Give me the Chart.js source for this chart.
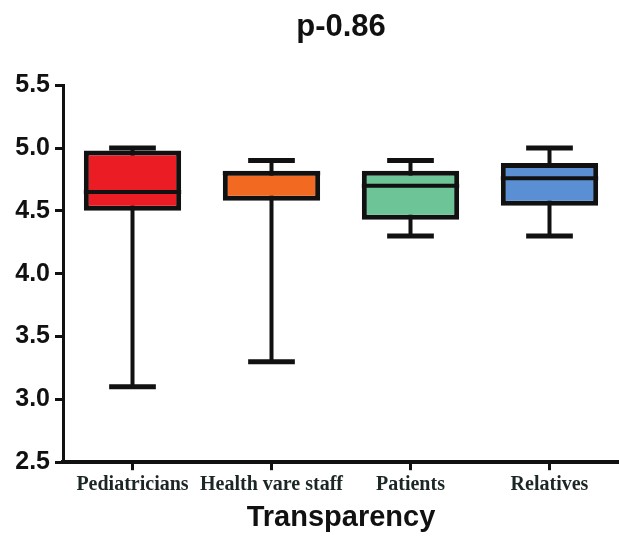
<!DOCTYPE html>
<html>
<head>
<meta charset="utf-8">
<script src="https://cdn.jsdelivr.net/npm/chart.js@4"></script>
<style>
  html, body { margin: 0; padding: 0; background: #fff; }
  #wrap { width: 619px; height: 536px; }
</style>
</head>
<body>
<div id="wrap"><canvas id="chart" width="619" height="536"></canvas></div>
<script>
// ===== DATA =====
const categories = ['Pediatricians', 'Health vare staff', 'Patients', 'Relatives'];
const whiskerLow = [3.1, 3.3, 4.3, 4.3];
const quartile1 = [4.5, 4.58, 4.43, 4.54];
const medians = [4.65, 4.8, 4.7, 4.76];
const quartile3 = [4.98, 4.82, 4.82, 4.88];
const whiskerHigh = [5.0, 4.9, 4.9, 5.0];
const yTicks = [2.5, 3.0, 3.5, 4.0, 4.5, 5.0, 5.5];
const boxColors = ['#ec1c24', '#f26a21', '#6cc497', '#5b8fd3'];

const INK = '#111';

// whiskers go behind the boxes, caps + medians on top
const boxWhiskers = {
  id: 'boxWhiskers',
  beforeDatasetsDraw(chart) {
    const { ctx, scales: { y } } = chart;
    const bars = chart.getDatasetMeta(0).data;
    ctx.save();
    ctx.strokeStyle = INK;
    ctx.lineWidth = 4;
    bars.forEach((bar, i) => {
      ctx.beginPath();
      ctx.moveTo(bar.x, y.getPixelForValue(whiskerLow[i]));
      ctx.lineTo(bar.x, y.getPixelForValue(whiskerHigh[i]));
      ctx.stroke();
    });
    ctx.restore();
  },
  afterDatasetsDraw(chart) {
    const { ctx, scales: { y } } = chart;
    const bars = chart.getDatasetMeta(0).data;
    ctx.save();
    ctx.strokeStyle = INK;
    bars.forEach((bar, i) => {
      const capHalf = bar.width * 0.24;
      ctx.lineWidth = 5;
      [whiskerLow[i], whiskerHigh[i]].forEach(v => {
        const py = y.getPixelForValue(v);
        ctx.beginPath();
        ctx.moveTo(bar.x - capHalf, py);
        ctx.lineTo(bar.x + capHalf, py);
        ctx.stroke();
      });
      ctx.lineWidth = 4;
      const my = y.getPixelForValue(medians[i]);
      ctx.beginPath();
      ctx.moveTo(bar.x - bar.width / 2, my);
      ctx.lineTo(bar.x + bar.width / 2, my);
      ctx.stroke();
    });
    ctx.restore();
  }
};

new Chart(document.getElementById('chart'), {
  type: 'bar',
  data: {
    labels: categories,
    datasets: [{
      data: categories.map((c, i) => [quartile1[i], quartile3[i]]),
      backgroundColor: boxColors,
      borderColor: INK,
      borderWidth: 5,
      borderSkipped: false,
      barPercentage: 0.7,
      categoryPercentage: 1
    }]
  },
  options: {
    responsive: false,
    animation: false,
    layout: { padding: 0 },
    plugins: {
      legend: { display: false },
      tooltip: { enabled: false },
      title: {
        display: true,
        text: 'p-0.86',
        fullSize: false,
        color: INK,
        font: { family: 'Liberation Sans', size: 31, weight: 'bold' },
        padding: { top: 9, bottom: 39 }
      }
    },
    scales: {
      x: {
        offset: true,
        grid: { display: true, drawOnChartArea: false, offset: false, tickLength: 8, lineWidth: 3, color: INK },
        border: { display: true, width: 4, color: INK },
        ticks: {
          autoSkip: false,
          maxRotation: 0,
          padding: 5,
          color: '#1d2626',
          font: { family: 'Liberation Serif', size: 20, weight: 'bold', lineHeight: 1.0 }
        },
        title: {
          display: true,
          text: 'Transparency',
          color: INK,
          font: { family: 'Liberation Sans', size: 29, weight: 'bold' },
          padding: { top: 0, bottom: 1 }
        }
      },
      y: {
        min: 2.5,
        max: 5.5,
        afterBuildTicks: scale => { scale.ticks = yTicks.map(v => ({ value: v })); },
        afterFit: scale => { scale.width = 63; },
        grid: { display: true, drawOnChartArea: false, tickLength: 8, lineWidth: 3, color: INK },
        border: { display: true, width: 3, color: INK },
        ticks: {
          padding: 5,
          color: INK,
          font: { family: 'Liberation Sans', size: 25, weight: 'bold' },
          callback: v => Number(v).toFixed(1)
        }
      }
    }
  },
  plugins: [boxWhiskers]
});
</script>
</body>
</html>
